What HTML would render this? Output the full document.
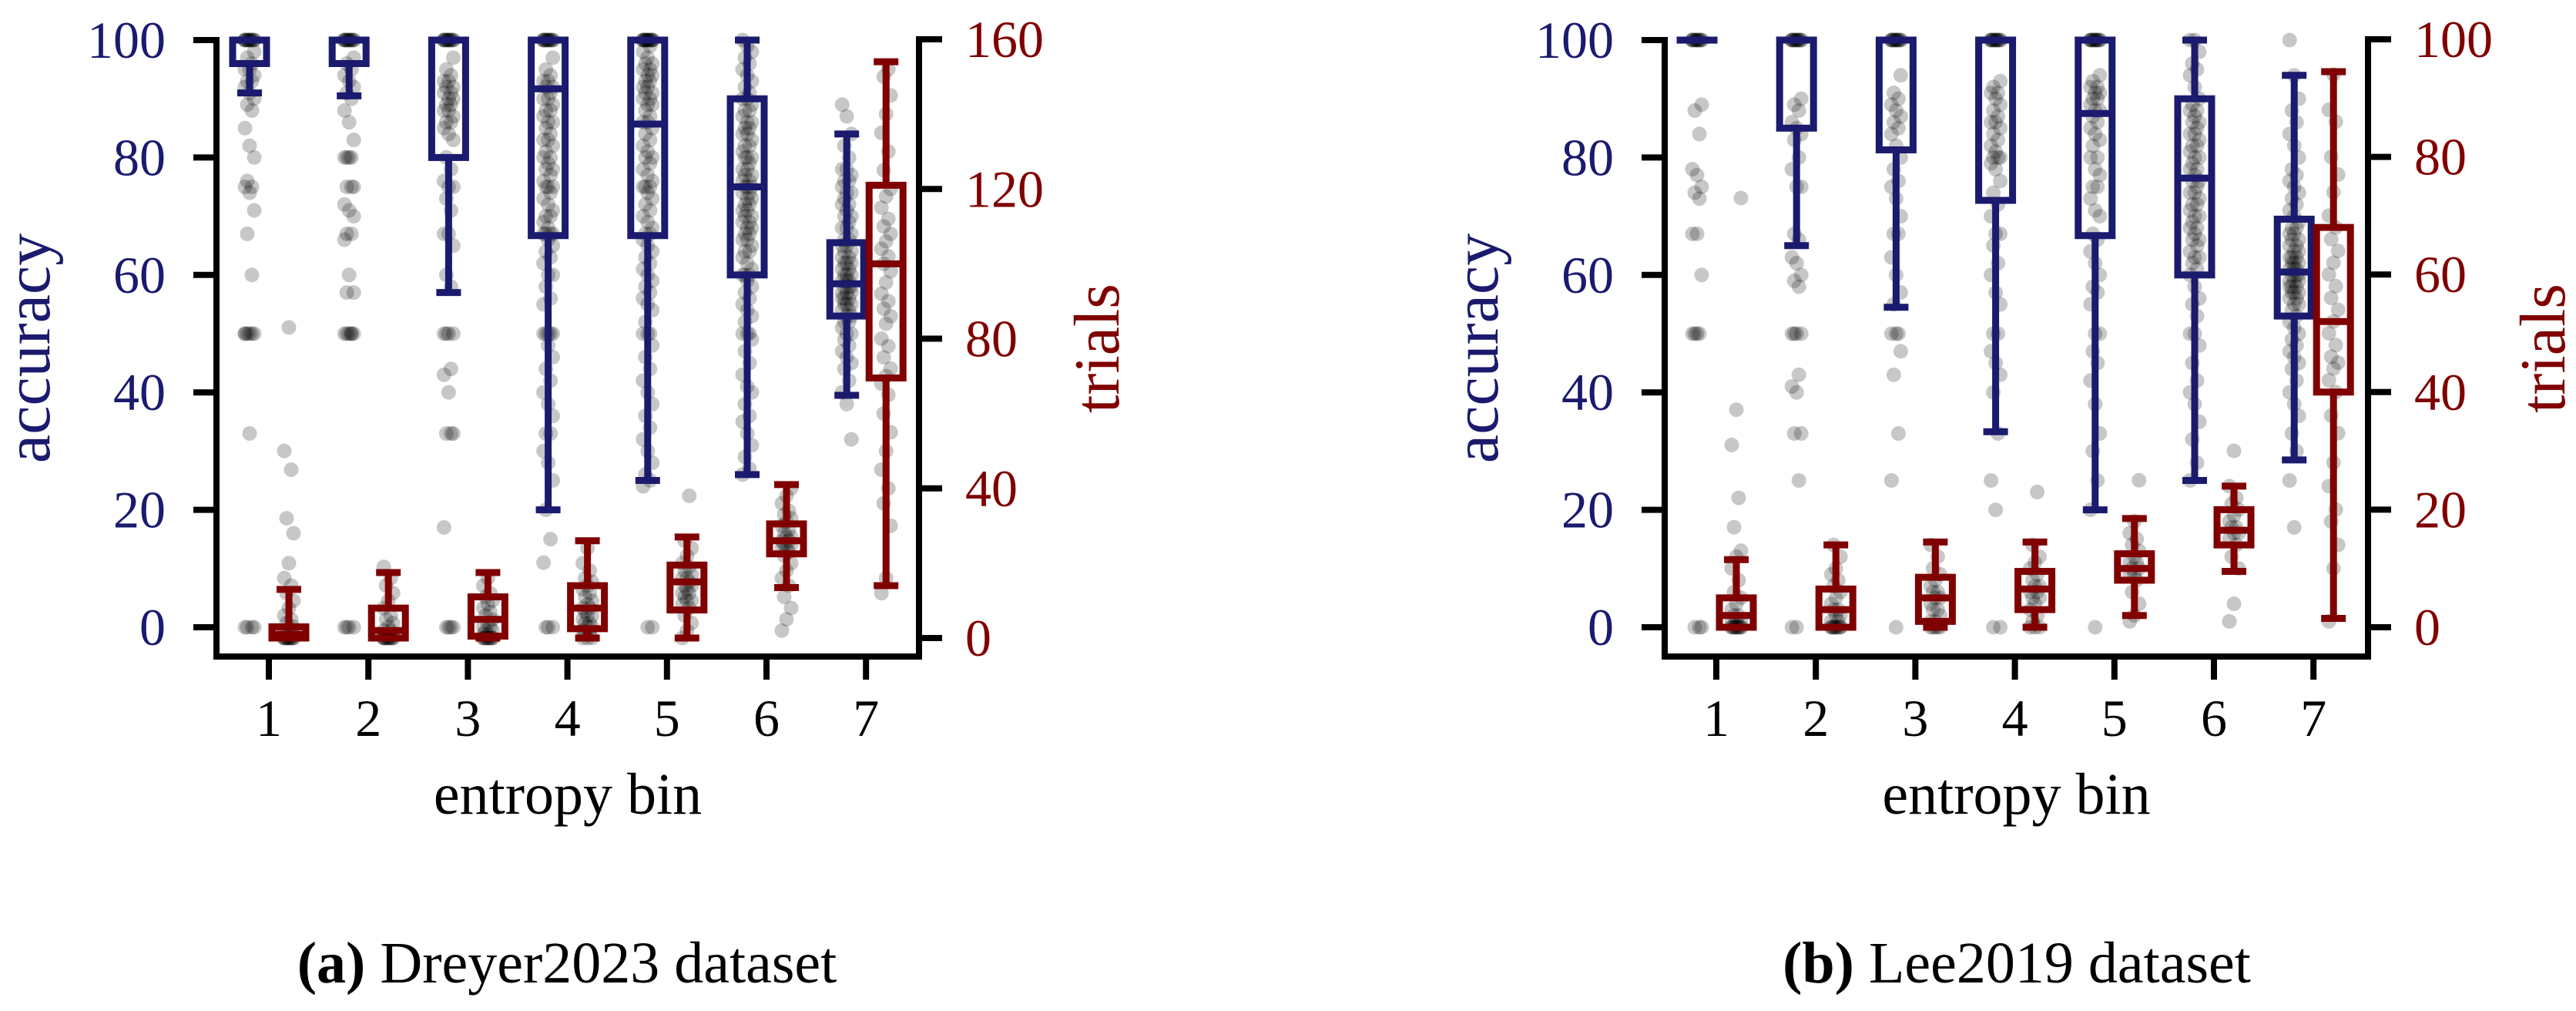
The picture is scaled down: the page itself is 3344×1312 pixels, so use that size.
<!DOCTYPE html>
<html><head><meta charset="utf-8">
<style>
html,body{margin:0;padding:0;background:#fff;}
svg{display:block;}
text{font-family:"Liberation Serif",serif;}
</style></head>
<body>
<svg id="fig" width="3344" height="1312" viewBox="0 0 3344 1312" xmlns="http://www.w3.org/2000/svg">
<g id="panelA"></g>
<g id="panelB"></g>
<text x="736" y="1275" font-size="76" text-anchor="middle"><tspan font-weight="bold">(a)</tspan> Dreyer2023 dataset</text>
<text x="2618" y="1275" font-size="76" text-anchor="middle"><tspan font-weight="bold">(b)</tspan> Lee2019 dataset</text>
</svg>
<script>
const bins = [1,2,3,4,5,6,7];
const accTicks = [0,20,40,60,80,100];
const trialTicksA = [0,40,80,120,160];
const trialTicksB = [0,20,40,60,80,100];

// box stats: [lo, q1, med, q3, hi]
const accBoxA = [[91,96,100,100,100],[90.5,96,100,100,100],[57,80,100,100,100],[20,66.7,91.7,100,100],[25,66.7,85.7,100,100],[26,60,75,90,100],[39.5,53,58.5,65.5,84]];
const trialBoxA = [[0,0,1,3,13],[0,0,2,8,17.5],[0,0.5,5,11,17.5],[0,2.5,8,14,26],[0,7.5,15,19.5,27],[13.5,22.5,26,30.5,41],[14,69.5,100,121,154]];
const accBoxB = [[100,100,100,100,100],[65,85,100,100,100],[54.5,81.3,100,100,100],[33.3,72.7,100,100,100],[20,66.7,87.5,100,100],[25,60,76.5,90,100],[28.5,53,60.5,69.5,94]];
const trialBoxB = [[0,0,2,5,11.5],[0,0,3,6.5,14],[0,1,5,8.5,14.5],[0,3,6.5,9.5,14.5],[2,8,10,12.5,18.5],[9.5,14,16.5,20,24],[1.5,40,52,68,94.5]];

// raw points per bin
const accPtsA = [
[100,100,100,100,100,100,100,100,100,100,100,100,98,97,96,95,95,94,93,93,92,91,90,89,88,85,82,80,76,75,75,74,71,67,60,50,50,50,50,50,50,33,0,0,0,0],
[100,100,100,100,100,100,100,100,100,100,100,100,97,96,95,94,93,92,91,90,88,86,83,80,80,80,80,75,75,75,72,71,70,67,67,66,60,57,57,50,50,50,50,50,50,0,0,0,0],
[100,100,100,100,100,100,100,100,100,100,100,100,97,95,94,93,93,92,92,91,91,90,90,89,89,88,88,87,86,86,85,84,83,80,78,76,75,75,73,71,67,67,65,60,58,50,50,50,50,44,43,40,33,33,33,17,0,0,0,0],
[100,100,100,100,100,100,100,100,100,100,100,100,97,95,94,93,93,92,92,91,90,90,89,88,88,87,86,86,85,84,83,83,82,81,80,80,79,78,78,77,76,75,75,75,74,73,72,71,70,70,69,68,67,67,67,67,66,65,64,63,62,60,60,58,56,55,50,50,50,50,50,48,46,44,42,40,38,36,33,33,30,28,25,20,15,11,0,0,0],
[100,100,100,100,100,100,100,100,100,100,100,100,100,100,99,98,97,96,96,95,95,94,94,93,93,92,92,91,91,90,90,89,89,88,87,86,86,85,84,83,82,81,80,80,79,78,77,76,75,75,75,74,73,72,71,70,69,68,67,67,66,65,64,63,62,61,60,59,58,57,56,55,54,52,50,50,50,48,46,44,42,40,38,36,34,32,30,28,26,25,24,0,0],
[100,99,98,97,96,95,94,93,92,91,90,90,89,88,88,87,86,86,85,85,84,84,83,82,82,81,80,80,80,79,78,78,77,77,76,76,75,75,75,74,74,73,73,72,72,71,71,70,70,69,69,68,68,67,67,66,66,65,64,64,63,62,61,60,60,60,59,58,57,56,55,54,53,52,50,50,50,49,47,45,43,41,40,38,36,35,33,31,29,27,26],
[89,87,84,82,80,78,78,77,76,76,75,74,74,73,72,72,71,70,70,69,68,68,67,66,66,65,65,64,64,63,63,62,62,62,61,61,60,60,60,59,59,59,58,58,58,57,57,57,56,56,56,55,55,55,54,54,53,53,52,52,51,50,50,49,48,47,46,45,44,42,40,38,32]
];
const trialPtsA = [
[0,0,0,0,0,0,0,0,0,0,0,0,1,1,1,2,2,3,4,5,6,8,10,12,14,16,20,28,32,45,50,83],
[0,0,0,0,0,0,0,0,0,0,0,1,1,1,2,2,3,4,5,6,8,10,12,14,16,19],
[0,0,0,0,0,0,0,0,0,0,1,1,2,2,3,3,4,5,6,7,8,9,10,11,12,14,16],
[0,0,0,1,1,2,3,3,4,4,5,6,6,7,8,8,9,10,11,12,13,14,15,16,18,20,24],
[0,2,4,6,8,9,10,10,11,12,12,13,14,14,15,16,16,17,18,19,20,22,24,26,38],
[2,5,8,11,14,16,18,20,22,23,24,24,25,25,26,26,27,27,28,29,30,31,32,33,34,36,38,40],
[12,16,30,36,40,45,50,55,60,65,68,70,72,75,78,80,84,86,88,90,92,95,98,100,102,104,106,108,110,112,115,118,120,125,130,135,140,145,150,152]
];
const accPtsB = [
[100,100,100,100,100,100,100,100,100,100,100,100,89,88,84,78,77,75,74,73,67,67,60,50,50,50,50,0,0,0],
[100,100,100,100,100,100,100,100,100,100,100,100,90,89,88,86,85,84,83,80,78,75,75,67,66,63,62,60,59,58,50,50,50,50,43,41,40,33,33,25,0,0],
[100,100,100,100,100,100,100,100,100,100,100,100,94,91,90,89,88,87,86,85,84,82,80,78,76,75,73,70,67,67,63,60,57,55,50,50,50,47,43,33,25,0],
[100,100,100,100,100,100,100,100,100,100,100,100,93,92,91,91,90,89,88,87,86,86,85,84,83,82,81,80,80,80,79,78,76,74,72,70,67,67,65,62,60,57,55,50,50,47,45,43,40,33,25,20,0,0],
[100,100,100,100,100,100,100,100,100,100,100,100,94,93,92,92,91,91,90,90,89,88,88,87,86,85,84,83,82,80,80,78,77,75,75,73,71,70,67,66,64,62,60,58,57,55,50,50,47,45,42,38,33,30,25,20,0],
[100,100,98,96,95,94,92,90,89,88,88,87,86,86,85,84,84,83,82,82,81,80,80,79,78,78,77,76,76,75,74,74,73,72,72,71,70,70,69,68,68,67,66,66,65,64,63,63,62,61,60,58,56,55,53,50,50,48,45,42,40,38,35,32,28,25],
[100,94,90,88,86,84,82,80,78,77,76,75,74,73,72,71,70,69,68,68,67,67,66,66,65,65,64,64,63,63,63,62,62,62,61,61,61,60,60,60,59,59,59,58,58,58,57,57,57,56,56,55,55,54,53,52,51,50,49,48,47,46,45,44,42,40,38,36,33,30,25,17]
];
const trialPtsB = [
[0,0,0,0,0,0,0,0,0,0,1,1,1,2,2,3,4,5,6,8,10,12,13,17,22,31,37,73],
[0,0,0,0,0,0,0,0,0,1,1,2,2,3,3,4,5,6,7,8,9,10,12,14],
[0,0,0,0,0,1,1,2,3,3,4,5,5,6,6,7,8,9,10,12,14],
[0,0,0,1,2,3,4,5,5,6,6,7,7,8,9,10,11,12,14,23],
[1,2,4,6,8,9,9,10,10,11,11,12,13,14,15,16,18,25],
[1,4,10,12,14,15,16,16,17,17,18,19,20,21,22,24,30],
[1,10,14,18,20,24,28,33,36,40,42,44,45,46,48,50,52,54,56,58,60,62,64,66,68,70,74,77,80,86,88,94]
];

const NS = 'http://www.w3.org/2000/svg';
const BLUE = '#1a1a6e', RED = '#800000';
function mk(parent, tag, attrs){
  const el = document.createElementNS(NS, tag);
  for (const k in attrs) el.setAttribute(k, attrs[k]);
  parent.appendChild(el);
  return el;
}

function drawPanel(g, o){
  const yAcc = v => 814 - v * 7.62;
  const yTr = v => o.trBottom - v * (o.trBottom - 51) / o.trMax;
  const xB = b => o.x1 + (b - 1) * 129.2;
  const L = o.left, R = o.right;

  for (let i = 0; i < bins.length; i++) {
    const b = bins[i];
    o.accPts[i].forEach((v, j) => {
      const c = mk(g, 'circle', {cx: xB(b) - 25 + ((j * 7) % 5 - 2) * 3, cy: yAcc(v), r: 9.5, fill: 'rgba(0,0,0,0.22)'});
      
      
    });
    o.trPts[i].forEach((v, j) => {
      const c = mk(g, 'circle', {cx: xB(b) + 26 + ((j * 7) % 5 - 2) * 3, cy: yTr(v), r: 9.5, fill: 'rgba(0,0,0,0.22)'});
      
      
    });
  }
  function box(cx, s, yf, col, name){
    const bg = mk(g, 'g', {stroke: col, 'stroke-width': 9, fill: 'none'});
    
    
    const [lo, q1, md, q3, hi] = s;
    mk(bg, 'line', {x1: cx, x2: cx, y1: yf(q1), y2: yf(lo)});
    mk(bg, 'line', {x1: cx, x2: cx, y1: yf(q3), y2: yf(hi)});
    mk(bg, 'line', {x1: cx - 16, x2: cx + 16, y1: yf(lo), y2: yf(lo)});
    mk(bg, 'line', {x1: cx - 16, x2: cx + 16, y1: yf(hi), y2: yf(hi)});
    mk(bg, 'rect', {x: cx - 22, y: yf(q3), width: 44, height: Math.max(0.1, yf(q1) - yf(q3))});
    mk(bg, 'line', {x1: cx - 22, x2: cx + 22, y1: yf(md), y2: yf(md)});
  }
  for (let i = 0; i < bins.length; i++) {
    box(xB(bins[i]) - 25, o.accBox[i], yAcc, BLUE, 'accuracy-box-bin' + bins[i]);
    box(xB(bins[i]) + 26, o.trBox[i], yTr, RED, 'trials-box-bin' + bins[i]);
  }
  const ax = mk(g, 'g', {stroke: '#000', 'stroke-width': 8, fill: 'none'});
  
  
  mk(ax, 'path', {d: `M${L} ${yAcc(100) - 4}V852H${R}V${yTr(o.trMax) - 4}`});
  accTicks.forEach(t => {
    mk(ax, 'line', {x1: L - 30, x2: L, y1: yAcc(t), y2: yAcc(t)});
    const tx = mk(g, 'text', {x: L - 66, y: yAcc(t) + 23, 'font-size': 68, 'text-anchor': 'end', fill: BLUE});
    tx.textContent = t;
    
    
  });
  o.trTicks.forEach(t => {
    mk(ax, 'line', {x1: R, x2: R + 30, y1: yTr(t), y2: yTr(t)});
    const tx = mk(g, 'text', {x: R + 60, y: yTr(t) + 23, 'font-size': 68, fill: RED});
    tx.textContent = t;
    
    
  });
  bins.forEach(b => {
    mk(ax, 'line', {x1: xB(b), x2: xB(b), y1: 852, y2: 882});
    const tx = mk(g, 'text', {x: xB(b), y: 955, 'font-size': 68, 'text-anchor': 'middle', fill: '#000'});
    tx.textContent = b;
    
    
  });
  const xl = mk(g, 'text', {x: (L + R) / 2, y: 1056, 'font-size': 76, 'text-anchor': 'middle', fill: '#000'});
  xl.textContent = 'entropy bin';
  
  
  const yl = mk(g, 'text', {x: 0, y: 0, 'font-size': 84, 'text-anchor': 'middle', fill: BLUE, transform: `translate(${o.accLabelX},452) rotate(-90)`});
  yl.textContent = 'accuracy';
  
  
  const yr = mk(g, 'text', {x: 0, y: 0, 'font-size': 84, 'text-anchor': 'middle', fill: RED, transform: `translate(${o.trLabelX},452) rotate(-90)`});
  yr.textContent = 'trials';
  
  
}

drawPanel(document.getElementById('panelA'), {left: 281, right: 1193, x1: 349, trBottom: 828, trMax: 160, trTicks: trialTicksA,
  accPts: accPtsA, trPts: trialPtsA, accBox: accBoxA, trBox: trialBoxA, accLabelX: 64, trLabelX: 1452});
drawPanel(document.getElementById('panelB'), {left: 2161, right: 3074, x1: 2228, trBottom: 814, trMax: 100, trTicks: trialTicksB,
  accPts: accPtsB, trPts: trialPtsB, accBox: accBoxB, trBox: trialBoxB, accLabelX: 1944, trLabelX: 3329});
</script>
</body></html>
